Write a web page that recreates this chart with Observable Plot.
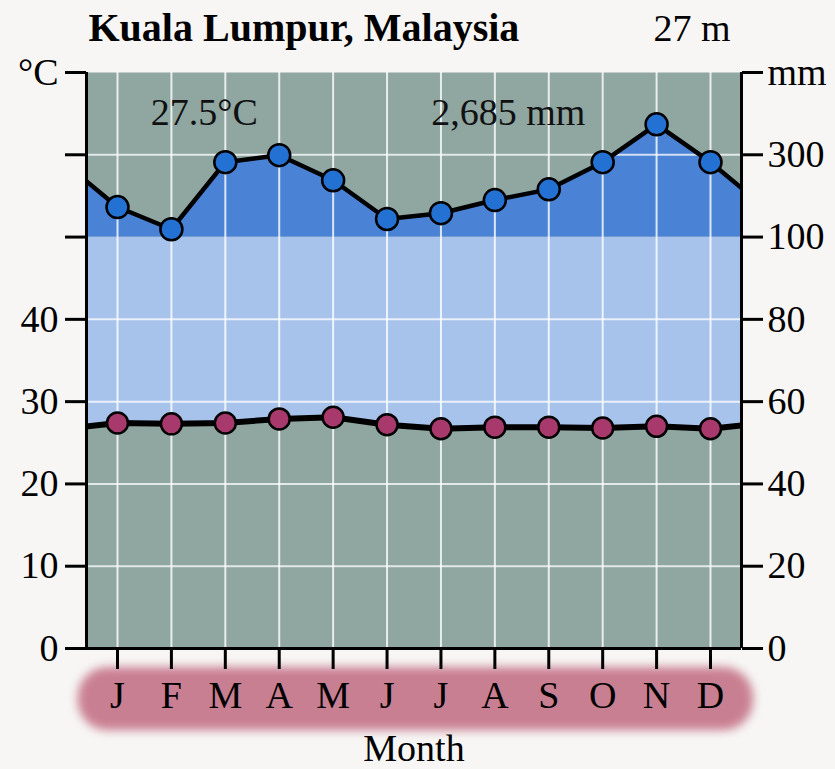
<!DOCTYPE html>
<html>
<head>
<meta charset="utf-8">
<script src="https://cdn.jsdelivr.net/npm/d3@7"></script>
<script src="https://cdn.jsdelivr.net/npm/@observablehq/plot@0.6"></script>
<style>
  html, body { margin: 0; padding: 0; background: #f7f6f4; }
  #chart svg { display: block; }
</style>
</head>
<body>
<div id="chart"></div>
<script>
// ---- data ----
const months = ["J","F","M","A","M","J","J","A","S","O","N","D"];
const tempC = [27.4, 27.3, 27.4, 27.9, 28.1, 27.2, 26.7, 26.9, 26.9, 26.8, 27.0, 26.7];
const precipMm = [173, 119, 282, 299, 238, 144, 158, 190, 216, 282, 374, 282];
const leftTicks = [0, 10, 20, 30, 40, 50, 60, 70];
const leftLabels = ["0", "10", "20", "30", "40", "", "", "°C"];
const rightLabels = ["0", "20", "40", "60", "80", "100", "300", "mm"];
const title = "Kuala Lumpur, Malaysia";
const elevation = "27 m";
const meanTemp = "27.5°C";
const totalPrecip = "2,685 mm";

// precipitation in diagram units (10 °C = 20 mm up to 100 mm, then 10 °C = 200 mm)
const pY = mm => mm <= 100 ? mm / 2 : 50 + (mm - 100) / 20;

const rows = months.map((m, i) => ({m: i, t: tempC[i], p: precipMm[i]}));
// wrap-around neighbours so lines run to the frame edges (clipped)
const ext = [{m: -1, t: tempC[11], p: precipMm[11]}, ...rows, {m: 12, t: tempC[0], p: precipMm[0]}];

const gray = "#8fa6a1";
const lightBlue = "#a7c3ec";
const darkBlue = "#4a83d6";
const font = "'Liberation Serif', 'Times New Roman', serif";

const plot = Plot.plot({
  width: 835,
  height: 769,
  marginLeft: 86,
  marginRight: 94,
  marginTop: 72,
  marginBottom: 121,
  style: {fontFamily: font, fontSize: "37px", color: "black", background: "transparent", overflow: "visible"},
  x: {type: "linear", domain: [-0.575, 11.575], axis: null},
  y: {domain: [0, 70], axis: null},
  marks: [
    Plot.frame({fill: gray, stroke: null}),
    Plot.area(ext, {x1: "m", y1: "t", y2: () => 50, fill: lightBlue, clip: true}),
    Plot.area(ext, {x1: "m", y1: () => 50, y2: d => pY(d.p), fill: darkBlue, clip: true}),
    Plot.ruleX(d3.range(12), {y1: 0, y2: 70, stroke: "white", strokeWidth: 2, strokeOpacity: 0.8}),
    Plot.ruleY([10, 20, 30, 40, 60], {stroke: "white", strokeWidth: 2, strokeOpacity: 0.75}),
    // month band
    Plot.rect([0], {x1: -0.73, x2: 11.8, y1: -2.3, y2: -10, rx: 30, fill: "#c97f92"}),
    Plot.line(ext, {x: "m", y: d => pY(d.p), stroke: "black", strokeWidth: 4.5, clip: true}),
    Plot.line(ext, {x: "m", y: "t", stroke: "black", strokeWidth: 6, clip: true}),
    Plot.dot(rows, {x: "m", y: d => pY(d.p), r: 11, fill: "#2371d2", stroke: "black", strokeWidth: 2.5}),
    Plot.dot(rows, {x: "m", y: "t", r: 10.5, fill: "#a8396c", stroke: "black", strokeWidth: 2.5}),
    // axes
    Plot.axisY({anchor: "left", ticks: leftTicks, tickFormat: d => leftLabels[leftTicks.indexOf(d)], tickSize: 21, tickPadding: 7, fontSize: 38, strokeWidth: 3, label: null}),
    Plot.axisY({anchor: "right", ticks: leftTicks, tickFormat: d => rightLabels[leftTicks.indexOf(d)], tickSize: 21, tickPadding: 5, fontSize: 38, strokeWidth: 3, label: null}),
    Plot.axisX({anchor: "bottom", ticks: d3.range(12), tickFormat: i => months[i], tickSize: 21, tickPadding: 12, fontSize: 38, strokeWidth: 3, label: null}),
    Plot.ruleX([-0.575, 11.575], {y1: 0, y2: 70, stroke: "black", strokeWidth: 3}),
    Plot.ruleY([0], {stroke: "black", strokeWidth: 3}),
    // texts
    Plot.text([meanTemp], {x: 1.61, y: 65.1, text: d => d, fontSize: 38, fill: "#111"}),
    Plot.text([totalPrecip], {x: 7.25, y: 65.1, text: d => d, fontSize: 38, fill: "#111"}),
    Plot.text([title], {frameAnchor: "top-left", lineAnchor: "middle", dx: 2, dy: -44, text: d => d, textAnchor: "start", fontSize: 40, fontWeight: "bold", fill: "black"}),
    Plot.text([elevation], {frameAnchor: "top-right", lineAnchor: "middle", dx: -11, dy: -44, text: d => d, textAnchor: "end", fontSize: 38, fill: "black"}),
    Plot.text(["Month"], {frameAnchor: "bottom", lineAnchor: "middle", dy: 100, text: d => d, fontSize: 38, fill: "black"})
  ]
});

// soften the month band
d3.select(plot).selectAll('g[aria-label="rect"] rect').style("filter", "blur(5px)");

document.getElementById("chart").appendChild(plot);
</script>
</body>
</html>
